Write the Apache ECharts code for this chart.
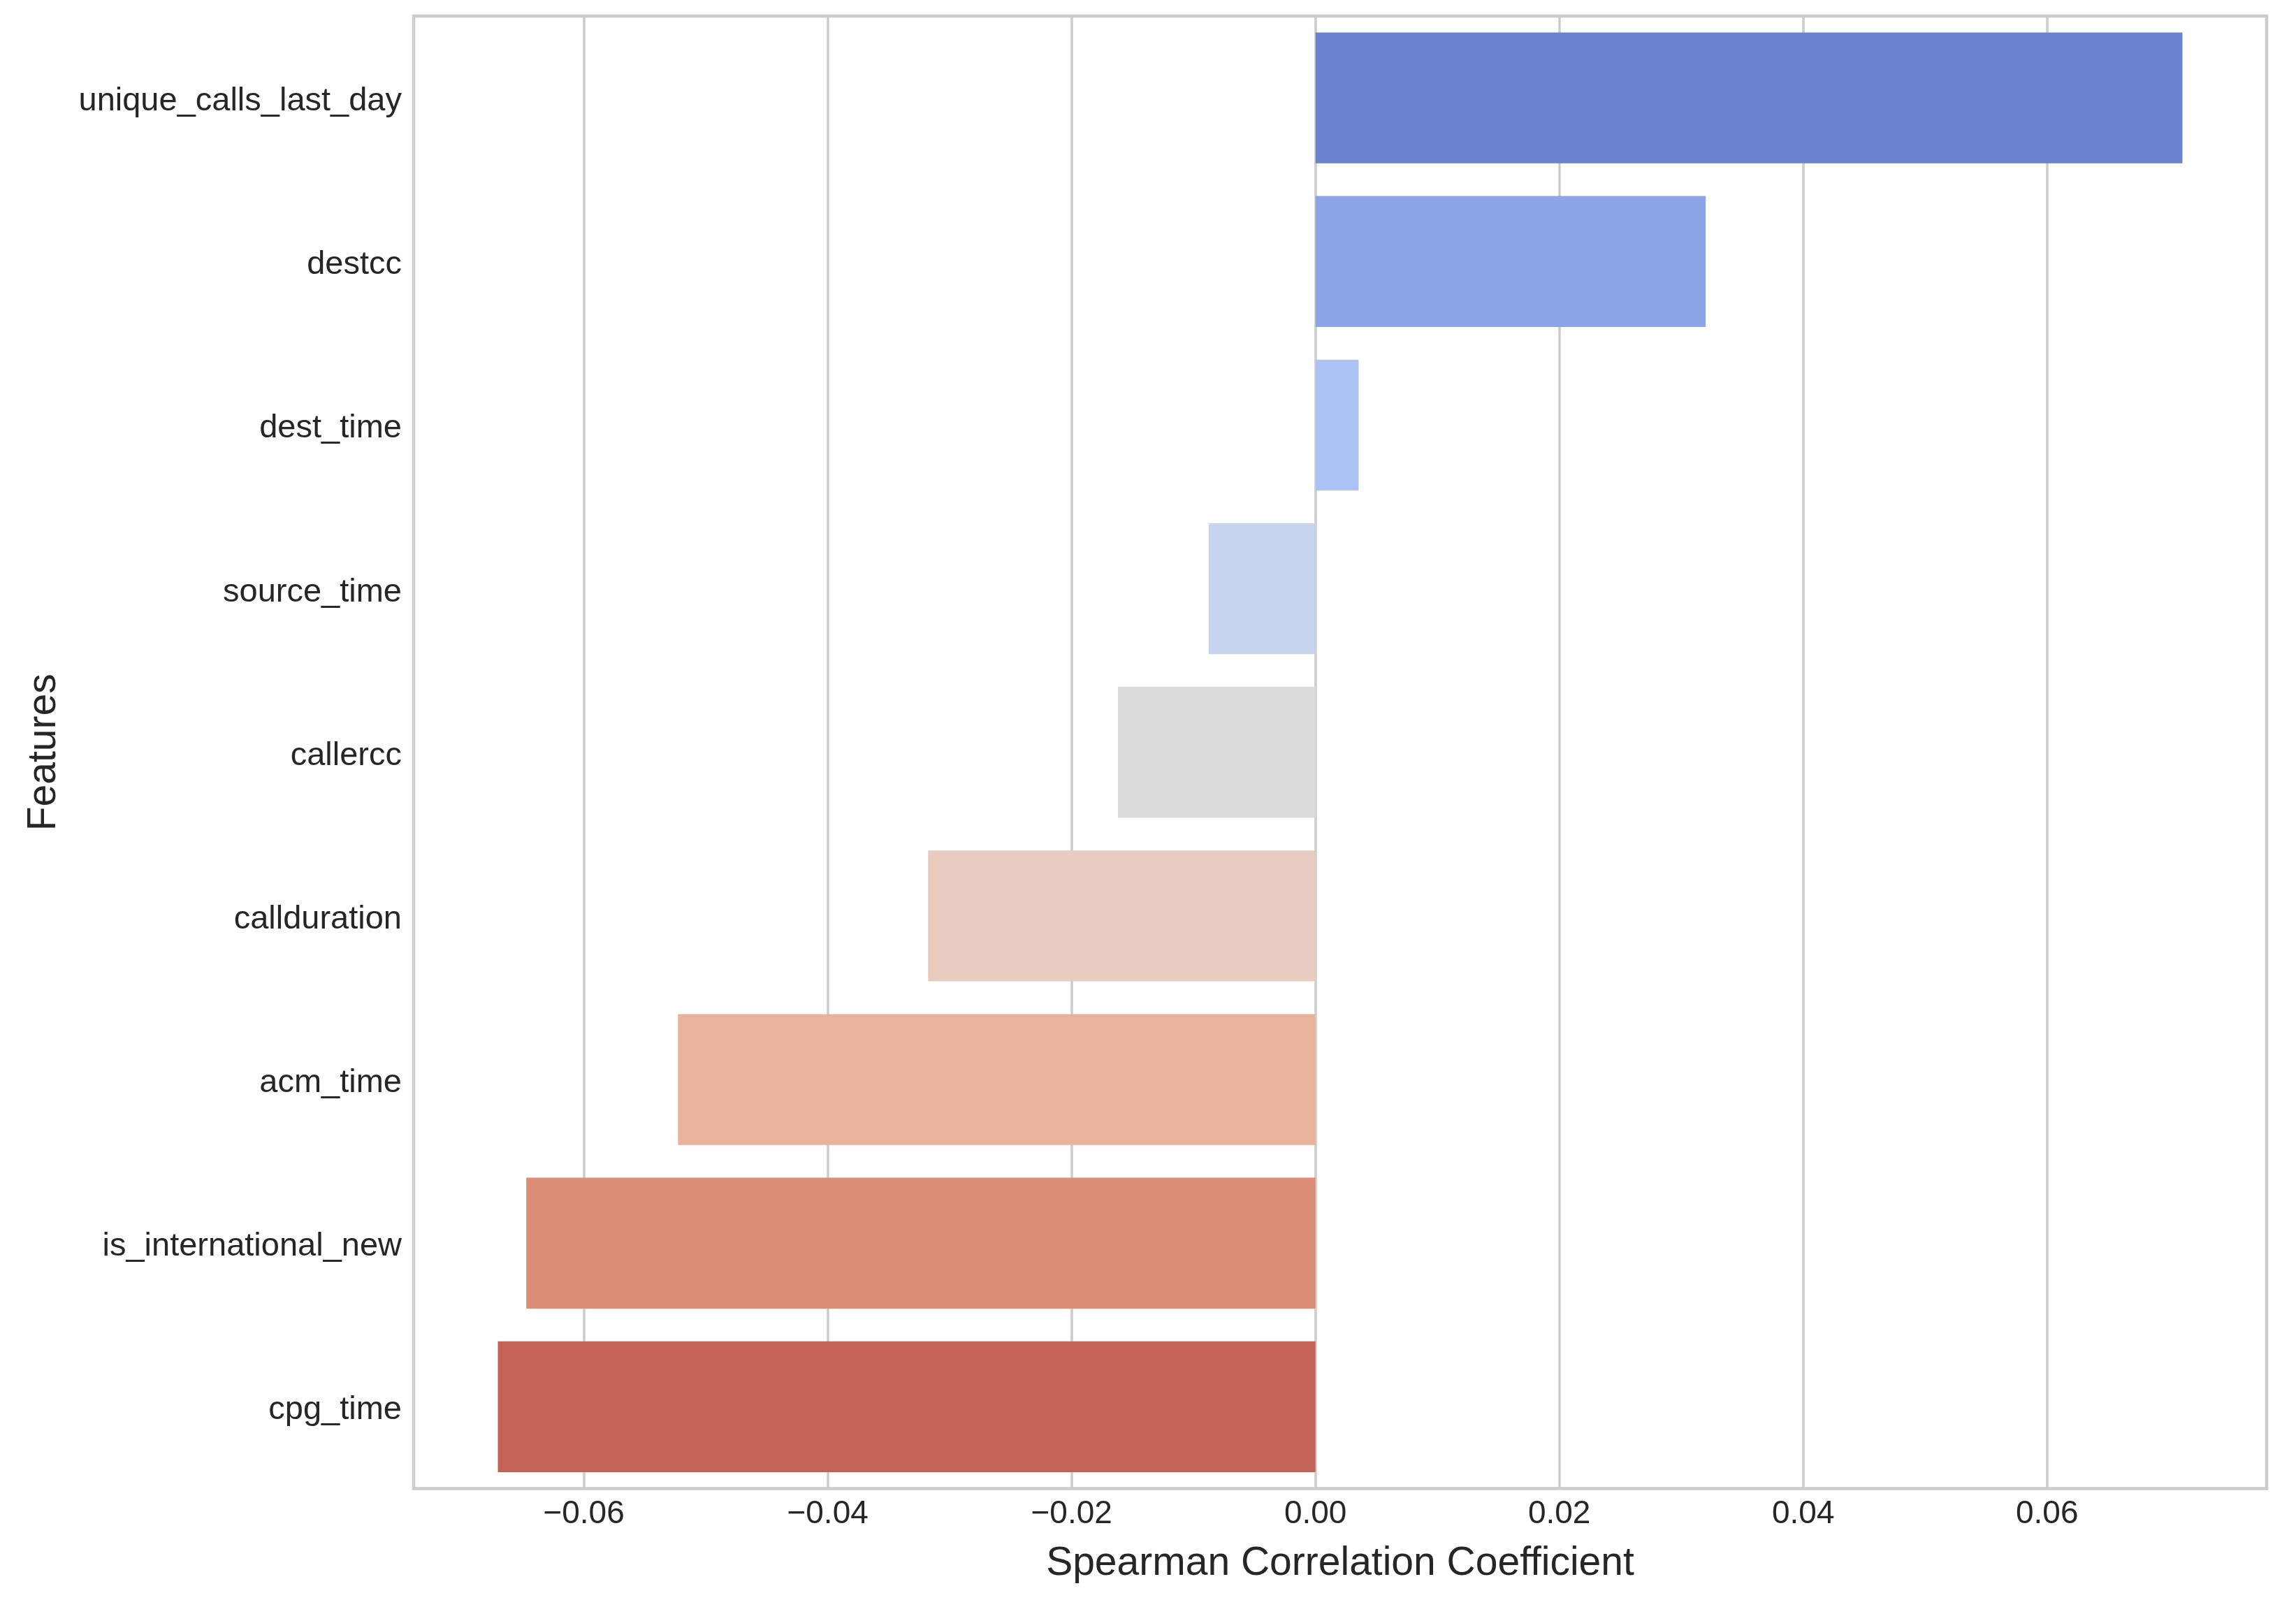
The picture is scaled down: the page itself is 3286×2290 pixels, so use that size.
<!DOCTYPE html>
<html>
<head>
<meta charset="utf-8">
<script src="https://cdn.jsdelivr.net/npm/echarts@6/dist/echarts.min.js"></script>
<style>
  html, body { margin: 0; padding: 0; background: #ffffff; }
  #chart { width: 3286px; height: 2290px; }
</style>
</head>
<body>
<div id="chart"></div>
<script>
// ---- data ----
const features = [
  'unique_calls_last_day', 'destcc', 'dest_time', 'source_time', 'callercc',
  'callduration', 'acm_time', 'is_international_new', 'cpg_time'
];
const spearman = [0.0711, 0.0320, 0.00354, -0.00875, -0.01620, -0.03177, -0.05228, -0.06472, -0.06705];
const xTicks = [-0.06, -0.04, -0.02, 0.00, 0.02, 0.04, 0.06];
const barColors = ['#6b82cf', '#8ba5e6', '#abc2f2', '#c6d4ee', '#dcdcdc', '#e8ccbf', '#e9b29b', '#dc8e78', '#c36358'];

// matplotlib-style 5% margins around the data range
const dMin = Math.min(0, ...spearman), dMax = Math.max(0, ...spearman);
const pad = (dMax - dMin) * 0.05;

const FONT = 'Liberation Sans';
const TXT = '#262626';
const GRIDC = '#cccccc';

const chart = echarts.init(document.getElementById('chart'), null, { renderer: 'canvas', devicePixelRatio: 1 });
chart.setOption({
  backgroundColor: '#ffffff',
  animation: false,
  grid: {
    left: 592, right: 42, top: 23, bottom: 159.5,
    show: true, borderColor: GRIDC, borderWidth: 4.5, backgroundColor: '#ffffff',
    containLabel: false
  },
  xAxis: {
    type: 'value',
    min: dMin - pad,
    max: dMax + pad,
    name: 'Spearman Correlation Coefficient',
    nameLocation: 'middle',
    nameGap: 79,
    nameTextStyle: { fontFamily: FONT, fontSize: 57, color: TXT },
    axisLine: { show: false },
    axisTick: { show: false, customValues: xTicks },
    axisLabel: {
      customValues: xTicks,
      fontFamily: FONT, fontSize: 46, color: TXT, margin: 14,
      formatter: v => (v < 0 ? '\u2212' : '') + Math.abs(v).toFixed(2)
    },
    splitLine: { show: true, lineStyle: { color: GRIDC, width: 3.5 } }
  },
  yAxis: {
    type: 'category',
    data: features,
    inverse: true,
    name: 'Features',
    nameLocation: 'middle',
    nameGap: 500,
    nameRotate: 90,
    nameTextStyle: { fontFamily: FONT, fontSize: 57, color: TXT },
    axisLine: { show: false },
    axisTick: { show: false },
    axisLabel: {
      fontFamily: FONT, fontSize: 47, color: TXT, margin: 17,
      formatter: v => '{a|' + v + '}',
      rich: { a: { fontFamily: FONT, fontSize: 47, color: TXT, padding: [10, 0, 0, 0] } }
    },
    splitLine: { show: false }
  },
  series: [{
    type: 'bar',
    barWidth: '80%',
    data: spearman.map((v, i) => ({ value: v, itemStyle: { color: barColors[i] } })),
    z: 3
  }]
});
</script>
</body>
</html>
